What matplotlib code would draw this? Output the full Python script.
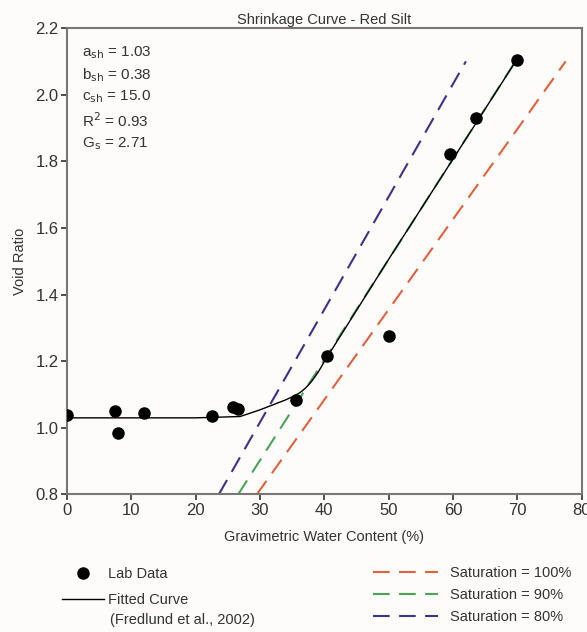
import matplotlib
matplotlib.use("Agg")
import matplotlib.pyplot as plt
from matplotlib.lines import Line2D

plt.rcParams['font.family'] = ['Liberation Sans', 'DejaVu Sans']

# lab measurements (water content %, void ratio)
lab_w = [0, 7.5, 8.0, 12.0, 22.5, 25.8, 26.6, 35.6, 40.4, 50.0, 59.6, 63.5, 70.0]
lab_e = [1.04, 1.05, 0.985, 1.045, 1.035, 1.062, 1.058, 1.085, 1.215, 1.275, 1.822, 1.93, 2.105]

# fitted curve
fit_w = [0, 10, 20, 26.9, 28, 30, 32, 34, 35, 36, 36.5, 37, 37.5, 38, 38.5, 39, 39.5, 40, 50, 60, 70]
fit_e = [1.03, 1.03, 1.03, 1.034, 1.041, 1.054, 1.069, 1.084, 1.093, 1.103, 1.110, 1.118, 1.128,
         1.139, 1.152, 1.166, 1.182, 1.199, 1.506, 1.807, 2.108]

# saturation lines: end points (w, e)
sat_labels = ['Saturation = 100%', 'Saturation = 90%', 'Saturation = 80%']
sat_w = [[29.5, 77.5], [26.6, 69.7], [23.6, 62.0]]
sat_e = [[0.8, 2.1], [0.8, 2.1], [0.8, 2.1]]
sat_colors = ['#e2603c', '#48a556', '#3c3489']

params = ['a$_{\\rm sh}$ = 1.03', 'b$_{\\rm sh}$ = 0.38', 'c$_{\\rm sh}$ = 15.0',
          'R$^2$ = 0.93', 'G$_{\\rm s}$ = 2.71']

fig = plt.figure(figsize=(5.87, 6.32), dpi=100)
fig.patch.set_facecolor('#fdfcfa')
ax = fig.add_axes([0.114, 0.2176, 0.877, 0.738])
ax.set_facecolor('#fdfcfa')

dash = (0, (8, 4.5))
for w, e, c in zip(sat_w, sat_e, sat_colors):
    ax.plot(w, e, color=c, lw=1.5, linestyle=dash)
ax.plot(fit_w, fit_e, color='black', lw=1.0)
ax.plot(lab_w, lab_e, 'o', color='black', ms=8, zorder=5)

ax.set_xlim(0, 80)
ax.set_ylim(0.8, 2.2)
ax.set_xticks(range(0, 81, 10))
ax.set_yticks([0.8, 1.0, 1.2, 1.4, 1.6, 1.8, 2.0, 2.2])
ax.set_yticklabels(['0.8', '1.0', '1.2', '1.4', '1.6', '1.8', '2.0', '2.2'])
ax.tick_params(labelsize=12, colors='#333333', length=4, width=1.2, direction='out', pad=2)
for s in ax.spines.values():
    s.set_color('#777777')
    s.set_linewidth(1.5)

ax.set_xlabel('Gravimetric Water Content (%)', fontsize=10.5, color='#333333', labelpad=9)
ax.set_ylabel('Void Ratio', fontsize=10.5, color='#333333', labelpad=6)
ax.set_title('Shrinkage Curve - Red Silt', fontsize=10.5, color='#333333', pad=3)

ax.text(0.03, 0.965, '\n'.join(params), transform=ax.transAxes, va='top', ha='left',
        fontsize=11, color='#333333', linespacing=1.4)

# legends
h1 = [Line2D([], [], marker='o', color='black', ls='none', ms=8),
      Line2D([], [], color='black', lw=1.0)]
leg1 = fig.legend(h1, ['Lab Data', 'Fitted Curve'], loc='upper left',
                  bbox_to_anchor=(0.095, 0.112), frameon=False, fontsize=10.5,
                  handlelength=2.9, handletextpad=0.3, labelspacing=0.8, borderaxespad=0)
fig.text(0.187, 0.008, '(Fredlund et al., 2002)', fontsize=10.5, color='#333333', va='bottom')
h2 = [Line2D([], [], color=c, lw=1.5, linestyle=dash) for c in sat_colors]
leg2 = fig.legend(h2, sat_labels, loc='upper left', bbox_to_anchor=(0.625, 0.113),
                  frameon=False, fontsize=10.5, handlelength=4.5, handletextpad=0.8,
                  labelspacing=0.55, borderaxespad=0)
for t in leg1.get_texts() + leg2.get_texts():
    t.set_color('#333333')

fig.savefig('out.png', dpi=100, facecolor=fig.get_facecolor())
